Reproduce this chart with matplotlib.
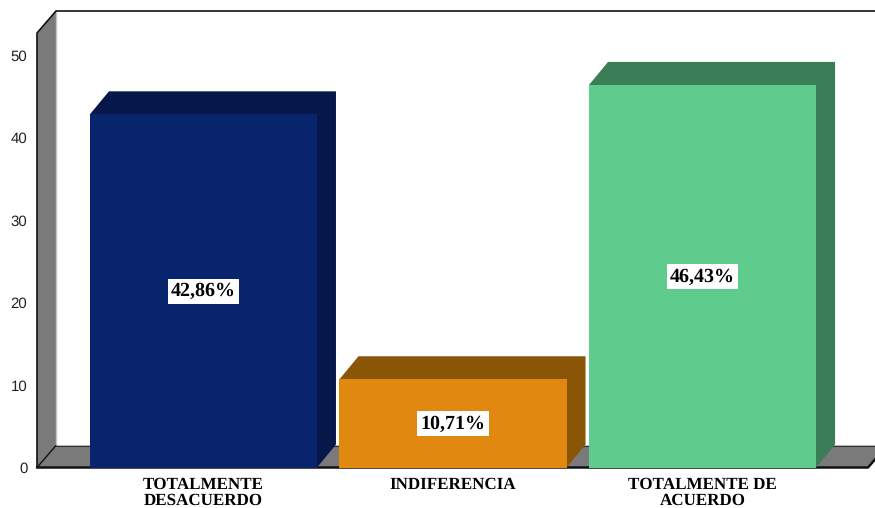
import matplotlib
matplotlib.use("Agg")
import matplotlib.pyplot as plt
from matplotlib.patches import Polygon

categories = ["TOTALMENTE\nDESACUERDO", "INDIFERENCIA", "TOTALMENTE DE\nACUERDO"]
values = [42.86, 10.71, 46.43]
value_labels = ["42,86%", "10,71%", "46,43%"]
y_ticks = [0, 10, 20, 30, 40, 50]

front_colors = ["#08246c", "#e0880f", "#5fcb8c"]
side_colors = ["#06174a", "#8a5507", "#3a7d56"]

W, H = 875, 508
LEFT, RIGHT, TOP, BOTTOM = 37, 868, 33, 467.5

plt.rcParams["text.hinting"] = "no_hinting"
plt.rcParams["text.hinting_factor"] = 1

fig = plt.figure(figsize=(W / 100, H / 100), dpi=100, facecolor="white")
ax = fig.add_axes([LEFT / W, 1 - BOTTOM / H, (RIGHT - LEFT) / W, (BOTTOM - TOP) / H])

xmin, xmax = -0.667, 2.663
ymax = (BOTTOM - TOP) / 8.24
ax.set_xlim(xmin, xmax)
ax.set_ylim(0, ymax)

# 3d depth offset in data units
dx = 19 / 249.5
dy = 22 / 8.24
bar_dy = 23 / 8.24

wall = "#7a7a7a"
ax.add_patch(Polygon([(xmin, 0), (xmin + dx, dy), (xmin + dx, ymax + dy), (xmin, ymax)],
                     fc=wall, ec="none", clip_on=False, zorder=1))
ax.add_patch(Polygon([(xmin, 0), (xmin + dx, dy), (xmax + dx, dy), (xmax, 0)],
                     fc=wall, ec="none", clip_on=False, zorder=1))
line_kw = dict(clip_on=False, zorder=2, solid_capstyle="round")
ax.plot([xmin, xmin, xmin + dx, xmax + dx], [0, ymax, ymax + dy, ymax + dy], color="#111111", lw=1.2, **line_kw)
ax.plot([xmin + dx, xmin + dx], [dy, ymax + dy], color="#c4c4c4", lw=1.0, clip_on=False, zorder=1.5)
ax.plot([xmin + dx, xmax + dx], [dy, dy], color="#333333", lw=0.8, **line_kw)
ax.plot([xmin, xmin + dx], [0, dy], color="#111111", lw=1.0, **line_kw)
ax.plot([xmin, xmax, xmax + dx], [0, 0, dy], color="#111111", lw=1.8, **line_kw)

positions = range(len(values))
width = 227 / 249.5
for i, v, fc, sc, lab in zip(positions, values, front_colors, side_colors, value_labels):
    x0, x1 = i - width / 2, i + width / 2
    # top and side faces as one shape so no seam shows at the corner
    ax.add_patch(Polygon([(x0, v), (x0 + dx, v + bar_dy), (x1 + dx, v + bar_dy), (x1 + dx, bar_dy), (x1, 0)],
                         fc=sc, ec="none", clip_on=False, zorder=3))
    ax.bar(i, v, width=width, color=fc, zorder=4)
    ax.text(i, v / 2 - 0.05, lab, ha="center", va="center", zorder=5,
            family="Liberation Serif", weight="bold", fontsize=14.5, color="black",
            bbox=dict(fc="white", ec="none", pad=2.5))

for s in ax.spines.values():
    s.set_visible(False)
ax.patch.set_visible(False)

ax.set_yticks(y_ticks)
ax.set_yticklabels([str(t) for t in y_ticks], family="Liberation Sans", fontsize=10.5, color="#222222")
ax.tick_params(axis="y", length=0, pad=7)
ax.set_xticks(list(positions))
ax.set_xticklabels(categories, family="Liberation Serif", weight="bold", fontsize=12.5, linespacing=1.0)
ax.tick_params(axis="x", length=0, pad=7)

fig.savefig("out.png", dpi=100)
